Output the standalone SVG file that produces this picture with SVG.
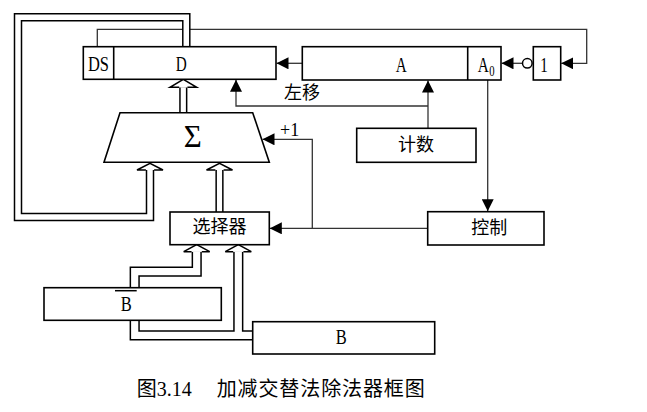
<svg xmlns="http://www.w3.org/2000/svg" width="647" height="412" viewBox="0 0 647 412">
<style>
.box{fill:#fff;stroke:#000;stroke-width:1.6}
.ln{fill:none;stroke:#333;stroke-width:1.3}
.dbk{fill:none;stroke:#000;stroke-linejoin:miter}
.dwh{fill:none;stroke:#fff;stroke-linejoin:miter}
.oh{fill:#fff;stroke:#000;stroke-width:1.5;stroke-linejoin:miter}
text{font-family:"Liberation Serif","Noto Sans CJK SC",serif;fill:#000}
.t{font-size:20px;text-anchor:middle}
.c{font-size:18px;text-anchor:middle;dominant-baseline:central}
</style>
<defs>
<marker id="ar" markerUnits="userSpaceOnUse" markerWidth="12" markerHeight="12" refX="12" refY="6" orient="auto">
<path d="M0,0 L12,6 L0,12 z" fill="#000"/>
</marker>
</defs>
<g id="connectors">
<path class="ln" d="M302.3,63.3 H276.5" marker-end="url(#ar)"/>
<path class="ln" d="M428,128.3 V80.5" marker-end="url(#ar)"/>
<path class="ln" d="M428,106 H236 V79.8" marker-end="url(#ar)"/>
<path class="ln" d="M487.7,80 V211.2" marker-end="url(#ar)"/>
<path class="ln" d="M427.7,228.3 H269.8" marker-end="url(#ar)"/>
<path class="ln" d="M312.3,228.3 V139.3 H262.5" marker-end="url(#ar)"/>
<path class="ln" d="M522.3,63.3 H501.5" marker-end="url(#ar)"/>
<path class="ln" d="M97.3,46.7 V29.3 H586.7 V63.3 H561.2" marker-end="url(#ar)"/>
<circle cx="527.3" cy="63.3" r="4.8" fill="#fff" stroke="#000" stroke-width="1.5"/>
<path class="dbk" stroke-width="8.5" d="M186.3,46.7 V17.3 H18 V217 H150 V170"/>
<path class="dbk" stroke-width="8.2" d="M183.3,112.7 V87.3"/>
<path class="dbk" stroke-width="8.2" d="M219.5,212 V170"/>
<path class="dbk" stroke-width="10.2" d="M134.7,287.7 V271.7 H196.7 V251.7"/>
<path class="dbk" stroke-width="10.2" d="M252.7,335.3 H134.7 V320.3"/>
<path class="dbk" stroke-width="10.2" d="M238.3,335.3 V251.7"/>
<path class="dwh" stroke-width="5.5" d="M186.3,46.7 V17.3 H18 V217 H150 V170"/>
<path class="dwh" stroke-width="5.2" d="M183.3,112.7 V87.3"/>
<path class="dwh" stroke-width="5.2" d="M219.5,212 V170"/>
<path class="dwh" stroke-width="7.2" d="M134.7,287.7 V271.7 H196.7 V251.7"/>
<path class="dwh" stroke-width="7.2" d="M252.7,335.3 H134.7 V320.3"/>
<path class="dwh" stroke-width="7.2" d="M238.3,335.3 V251.7"/>
<polyline class="oh" points="179.2,87.3 170,87.3 183.3,79.3 196.7,87.3 187.4,87.3"/>
<polyline class="oh" points="145.9,170 137,170 150,163.3 163,170 154.1,170"/>
<polyline class="oh" points="215.4,170 206.5,170 219.5,163.3 232.5,170 223.6,170"/>
<polyline class="oh" points="191.6,251.7 183.7,251.7 196.7,244.7 209.7,251.7 201.8,251.7"/>
<polyline class="oh" points="233.2,251.7 225.3,251.7 238.3,244.7 251.3,251.7 243.4,251.7"/>
</g>
<g id="reg-D">
<rect class="box" x="83.3" y="46.7" width="192.7" height="32.6"/>
<line x1="113.7" y1="46.7" x2="113.7" y2="79.3" stroke="#000" stroke-width="1.6"/>
<text class="t" x="98.5" y="70.5" textLength="21" lengthAdjust="spacingAndGlyphs">DS</text>
<text class="t" x="181.3" y="70.5" textLength="11" lengthAdjust="spacingAndGlyphs">D</text>
</g>
<g id="reg-A">
<rect class="box" x="302.3" y="46.7" width="198.7" height="33.3"/>
<line x1="467.7" y1="46.7" x2="467.7" y2="80" stroke="#000" stroke-width="1.6"/>
<text class="t" x="401.3" y="71.5" textLength="11" lengthAdjust="spacingAndGlyphs">A</text>
<text x="477.7" y="71.5" style="font-size:20px" textLength="17" lengthAdjust="spacingAndGlyphs">A<tspan style="font-size:14px" dx="0.8" dy="4">0</tspan></text>
</g>
<g id="one">
<rect class="box" x="533.3" y="46.7" width="27.4" height="33.3"/>
<text class="t" x="544" y="71.5" textLength="7.5" lengthAdjust="spacingAndGlyphs">1</text>
</g>
<g id="adder">
<polygon class="box" points="120,112.7 252.7,112.7 269.3,162.3 104,162.3"/>
<text x="192.8" y="146.7" style="font-size:32px;text-anchor:middle" textLength="18" lengthAdjust="spacingAndGlyphs">Σ</text>
</g>
<g id="label-shift"><text class="c" x="302" y="93.3">左移</text></g>
<g id="label-plus1"><text x="289.7" y="136" style="font-size:18px;text-anchor:middle">+1</text></g>
<g id="counter">
<rect class="box" x="356.7" y="128.3" width="119.3" height="34"/>
<text class="c" x="416" y="144.5">计数</text>
</g>
<g id="control">
<rect class="box" x="427.7" y="211.7" width="116.3" height="33.3"/>
<text class="c" x="489.3" y="228">控制</text>
</g>
<g id="selector">
<rect class="box" x="170" y="212" width="99.3" height="32.7"/>
<text class="c" x="219.5" y="227">选择器</text>
</g>
<g id="Bbar">
<rect class="box" x="44" y="287.7" width="177.3" height="32.6"/>
<text class="t" x="126.2" y="311" textLength="11" lengthAdjust="spacingAndGlyphs">B</text>
<line x1="115" y1="290.7" x2="136.7" y2="290.7" stroke="#000" stroke-width="1.5"/>
</g>
<g id="B">
<rect class="box" x="252.7" y="321.7" width="182" height="32.3"/>
<text class="t" x="341.3" y="344" textLength="11" lengthAdjust="spacingAndGlyphs">B</text>
</g>
<g id="caption">
<text style="font-size:20px" y="395.5"><tspan x="136.7">图3.14</tspan><tspan x="216.7" textLength="208" lengthAdjust="spacing">加减交替法除法器框图</tspan></text>
</g>
</svg>
